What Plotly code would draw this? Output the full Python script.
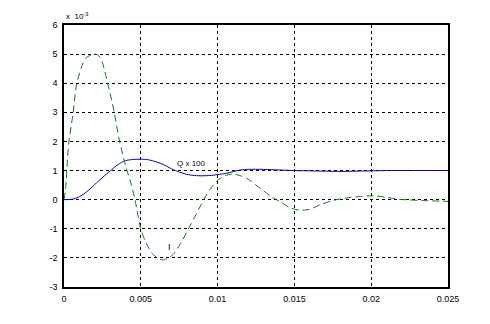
import plotly.graph_objects as go

# Current I (green, dashed), scaled by 1e-3
t_i = [0, 0.0001, 0.0003, 0.0006, 0.0008, 0.0011, 0.0014, 0.0019, 0.0022, 0.00245,
       0.00284, 0.00327, 0.0036, 0.0041, 0.0043, 0.00462, 0.005, 0.00534, 0.0058, 0.0064,
       0.0068, 0.0071, 0.0076, 0.0081, 0.0086, 0.0091, 0.0095, 0.01, 0.0105, 0.011,
       0.0115, 0.012, 0.0125, 0.013, 0.0135, 0.014, 0.0147, 0.0153, 0.016, 0.0167,
       0.0175, 0.0184, 0.0193, 0.0202, 0.021, 0.0217, 0.0225, 0.0234, 0.025]
v_i = [0, 0.35, 1.9, 3.0, 3.9, 4.5, 4.85, 5.0, 4.97, 4.78,
       4.0, 3.0, 2.05, 1.0, 0.68, 0.0, -1.0, -1.48, -1.88, -2.07,
       -2.0, -1.88, -1.5, -1.0, -0.5, 0.0, 0.35, 0.66, 0.83, 0.88,
       0.82, 0.7, 0.5, 0.3, 0.1, -0.05, -0.27, -0.36, -0.33, -0.17,
       -0.03, 0.06, 0.11, 0.13, 0.08, 0.02, -0.01, -0.03, -0.06]

# Charge Q x 100 (blue, solid)
t_q = [0, 0.0006, 0.001, 0.0015, 0.002, 0.0025, 0.003, 0.0035, 0.004, 0.0045,
       0.005, 0.0055, 0.006, 0.0065, 0.007, 0.0075, 0.008, 0.0085, 0.009, 0.0095,
       0.01, 0.0105, 0.011, 0.0115, 0.012, 0.013, 0.014, 0.015, 0.016, 0.017,
       0.018, 0.019, 0.02, 0.021, 0.025]
v_q = [0, 0.02, 0.1, 0.28, 0.52, 0.76, 0.98, 1.2, 1.34, 1.38,
       1.39, 1.37, 1.3, 1.2, 1.06, 0.95, 0.87, 0.83, 0.82, 0.83,
       0.86, 0.9, 0.96, 1.02, 1.04, 1.04, 1.02, 1.0, 0.99, 0.98,
       0.97, 0.98, 0.99, 1.0, 1.0]

x_ticks = [0, 0.005, 0.01, 0.015, 0.02, 0.025]
x_tick_labels = ["0", "0.005", "0.01", "0.015", "0.02", "0.025"]
y_ticks = [-3, -2, -1, 0, 1, 2, 3, 4, 5, 6]
y_tick_labels = ["-3", "-2", "-1", "0", "1", "2", "3", "4", "5", "6"]

font = "Liberation Sans, Arial, sans-serif"

fig = go.Figure()
fig.add_trace(go.Scatter(x=t_q, y=v_q, mode="lines", line=dict(color="#0000b0", width=1, shape="spline", smoothing=0.8),
                         showlegend=False, hoverinfo="skip"))
fig.add_trace(go.Scatter(x=t_i, y=v_i, mode="lines",
                         line=dict(color="#137a13", width=1, dash="7px,4px", shape="spline", smoothing=0.8),
                         showlegend=False, hoverinfo="skip"))

axis_common = dict(showline=True, linecolor="black", linewidth=1.5, mirror=True,
                   showgrid=True, gridcolor="black", gridwidth=1, griddash="3px,3px",
                   zeroline=False, ticks="", tickfont=dict(family=font, size=9, color="black"))

fig.update_xaxes(range=[0, 0.025], tickvals=x_ticks, ticktext=x_tick_labels, ticklabelstandoff=2, **axis_common)
fig.update_yaxes(range=[-3, 6], tickvals=y_ticks, ticktext=y_tick_labels, ticklabelstandoff=3, **axis_common)

fig.add_annotation(x=0.0083, y=1.23, text="Q x 100", showarrow=False,
                   font=dict(family=font, size=8, color="black"))
fig.add_annotation(x=0.00684, y=-1.62, text="I", showarrow=False,
                   font=dict(family=font, size=9, color="black"))
fig.add_annotation(x=0, y=1.0, xref="paper", yref="paper", xanchor="left", yanchor="bottom",
                   text="x  10<sup>-3</sup>", showarrow=False, yshift=2,
                   font=dict(family=font, size=8, color="black"))

fig.update_layout(width=474, height=308, margin=dict(l=56, r=34, t=16, b=28),
                  paper_bgcolor="white", plot_bgcolor="white")

fig.write_html("out.html")
